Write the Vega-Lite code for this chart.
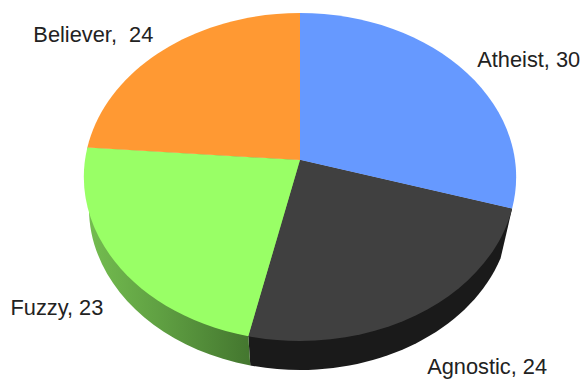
{
  "$schema": "https://vega.github.io/schema/vega-lite/v6.json",
  "width": 581,
  "height": 379,
  "autosize": {"type": "fit", "contains": "padding"},
  "padding": 0,
  "background": "white",
  "config": {"view": {"stroke": null}},
  "data": {"values": [
    {"rank": 1, "category": "Atheist", "value": 30, "label": "Atheist, 30"},
    {"rank": 2, "category": "Agnostic", "value": 24, "label": "Agnostic, 24"},
    {"rank": 3, "category": "Fuzzy", "value": 23, "label": "Fuzzy, 23"},
    {"rank": 4, "category": "Believer", "value": 24, "label": "Believer,\u00a0 24"}
  ]},
  "transform": [
    {"stack": "value", "groupby": [], "sort": [{"field": "rank", "order": "ascending"}], "as": ["v0", "v1"]},
    {"joinaggregate": [{"op": "sum", "field": "value", "as": "total"}]},
    {"calculate": "2 * PI * datum.v0 / datum.total", "as": "t0"},
    {"calculate": "2 * PI * datum.v1 / datum.total", "as": "t1"},
    {"calculate": "(datum.t0 + datum.t1) / 2", "as": "tm"},
    {"calculate": "round(1e5 * 0.99537 * sin(datum.t0) / (1 + 0.1037 * cos(datum.t0))) / 1e5", "as": "px0"},
    {"calculate": "round(-1e5 * 0.75093 * cos(datum.t0) / (1 + 0.1037 * cos(datum.t0))) / 1e5", "as": "py0"},
    {"calculate": "round(1e5 * 0.99537 * sin(datum.t1) / (1 + 0.1037 * cos(datum.t1))) / 1e5", "as": "px1"},
    {"calculate": "round(-1e5 * 0.75093 * cos(datum.t1) / (1 + 0.1037 * cos(datum.t1))) / 1e5", "as": "py1"},
    {"calculate": "round(1e5 * 0.97685 * sin(datum.t0 + 0.02)) / 1e5", "as": "bx0"},
    {"calculate": "round(1e5 * (0.22222 - 0.75 * cos(datum.t0 + 0.02))) / 1e5", "as": "by0"},
    {"calculate": "round(1e5 * 0.97685 * sin(datum.t1 + 0.02)) / 1e5", "as": "bx1"},
    {"calculate": "round(1e5 * (0.22222 - 0.75 * cos(datum.t1 + 0.02))) / 1e5", "as": "by1"},
    {"calculate": "'M0,0L' + datum.px0 + ',' + datum.py0 + 'A1.00093,0.75926,0,0,1,' + datum.px1 + ',' + datum.py1 + 'Z'", "as": "facePath"},
    {"calculate": "'M0,0L' + datum.px0 + ',' + datum.py0 + 'L' + datum.bx0 + ',' + datum.by0 + 'A0.97685,0.75,0,0,1,' + datum.bx1 + ',' + datum.by1 + 'L' + datum.px1 + ',' + datum.py1 + 'Z'", "as": "wallPath"},
    {"calculate": "0.99537 * sin(datum.tm) / (1 + 0.1037 * cos(datum.tm)) + {'Atheist': 66, 'Agnostic': 68, 'Fuzzy': -59, 'Believer': -71}[datum.category] / 216", "as": "labelX"},
    {"calculate": "0.75093 * cos(datum.tm) / (1 + 0.1037 * cos(datum.tm)) - {'Atheist': -9, 'Agnostic': 53, 'Fuzzy': 45, 'Believer': -14}[datum.category] / 216", "as": "labelY"},
    {"calculate": "0", "as": "apex"}
  ],
  "encoding": {
    "x": {"field": "apex", "type": "quantitative", "axis": null, "scale": {"domain": [-1.38889, 1.30093], "nice": false, "zero": false}},
    "y": {"field": "apex", "type": "quantitative", "axis": null, "scale": {"domain": [-1.01389, 0.74074], "nice": false, "zero": false}}
  },
  "layer": [
    {
      "transform": [{"filter": "datum.category === 'Agnostic'"}],
      "mark": {"type": "point", "filled": true, "opacity": 1, "size": 186624, "fill": "#1a1a1a", "clip": false},
      "encoding": {"shape": {"field": "wallPath", "type": "nominal", "scale": null, "legend": null}}
    },
    {
      "transform": [{"filter": "datum.category === 'Fuzzy'"}],
      "mark": {
        "type": "point", "filled": true, "opacity": 1, "size": 186624, "clip": false,
        "fill": {
          "gradient": "linear", "x1": 0, "y1": 0, "x2": 1, "y2": 0,
          "stops": [
            {"offset": 0, "color": "#74bd50"},
            {"offset": 0.35, "color": "#5f9f42"},
            {"offset": 0.76, "color": "#44772f"},
            {"offset": 1, "color": "#44772f"}
          ]
        }
      },
      "encoding": {"shape": {"field": "wallPath", "type": "nominal", "scale": null, "legend": null}}
    },
    {
      "mark": {"type": "point", "filled": true, "opacity": 1, "size": 186624, "clip": false},
      "encoding": {
        "shape": {"field": "facePath", "type": "nominal", "scale": null, "legend": null},
        "color": {
          "field": "category", "type": "nominal", "legend": null,
          "scale": {"domain": ["Atheist", "Agnostic", "Fuzzy", "Believer"], "range": ["#6699ff", "#404040", "#99ff66", "#ff9933"]}
        }
      }
    },
    {
      "mark": {"type": "text", "font": "Liberation Sans", "fontSize": 21.8, "color": "#222222", "align": "center", "baseline": "middle"},
      "encoding": {
        "x": {"field": "labelX", "type": "quantitative"},
        "y": {"field": "labelY", "type": "quantitative"},
        "text": {"field": "label", "type": "nominal"}
      }
    }
  ]
}
